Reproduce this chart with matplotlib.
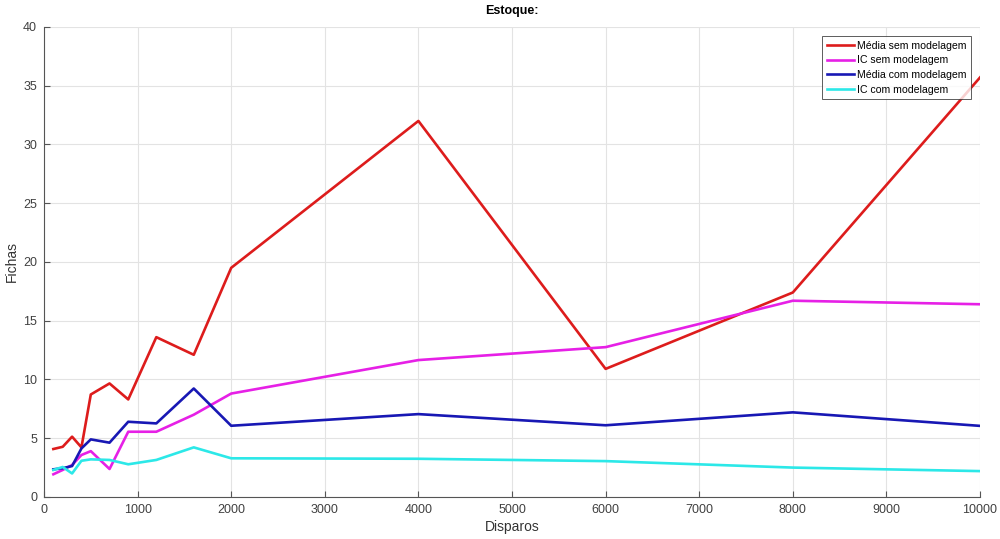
import matplotlib.pyplot as plt

# Number of shots
disparos = [100, 200, 300, 400, 500, 700, 900, 1200, 1600, 2000, 4000, 6000, 8000, 10000]

# Stock (fichas) per scenario
media_sem = [4.08, 4.27, 5.13, 4.22, 8.72, 9.66, 8.3, 13.6, 12.1, 19.5, 32.0, 10.9, 17.4, 35.7]
ic_sem = [1.93, 2.3, 2.72, 3.57, 3.9, 2.38, 5.55, 5.55, 7.0, 8.8, 11.65, 12.75, 16.7, 16.4]
media_com = [2.35, 2.45, 2.63, 4.13, 4.9, 4.62, 6.4, 6.26, 9.23, 6.06, 7.05, 6.1, 7.2, 6.05]
ic_com = [2.3, 2.55, 2.0, 3.08, 3.2, 3.15, 2.78, 3.15, 4.22, 3.29, 3.25, 3.05, 2.5, 2.2]

plt.rcParams['font.family'] = ['Liberation Sans', 'DejaVu Sans']

fig = plt.figure(figsize=(10, 5.39), dpi=100)
ax = fig.add_axes([0.044, 0.078, 0.936, 0.872])

ax.plot(disparos, media_sem, color='#dd1c1c', lw=1.9, label='Média sem modelagem')
ax.plot(disparos, ic_sem, color='#e620e6', lw=1.9, label='IC sem modelagem')
ax.plot(disparos, media_com, color='#1818b4', lw=1.9, label='Média com modelagem')
ax.plot(disparos, ic_com, color='#2ce8e8', lw=1.9, label='IC com modelagem')

ax.set_xlim(0, 10000)
ax.set_ylim(0, 40)
ax.set_xticks(range(0, 10001, 1000))
ax.set_yticks(range(0, 41, 5))
ax.grid(True, color='#e3e3e3', lw=0.8)
ax.set_axisbelow(True)

for side in ['top', 'right']:
    ax.spines[side].set_visible(False)
for side in ['left', 'bottom']:
    ax.spines[side].set_color('#555555')
    ax.spines[side].set_linewidth(0.8)
ax.tick_params(direction='in', length=4, colors='#555555', labelsize=9,
               labelcolor='#404040', pad=5)

ax.set_title('Estoque:', fontsize=9, fontweight='bold', pad=9)
ax.set_xlabel('Disparos', fontsize=10, color='#333333', labelpad=3)
ax.set_ylabel('Fichas', fontsize=10, color='#333333', labelpad=3)

leg = ax.legend(loc='upper right', fontsize=7.6, frameon=True, fancybox=False,
                edgecolor='#333333', handlelength=2.6, handletextpad=0.25,
                borderpad=0.4, labelspacing=0.45, borderaxespad=0.9)
leg.get_frame().set_linewidth(0.7)

fig.savefig('out.png', dpi=100)
